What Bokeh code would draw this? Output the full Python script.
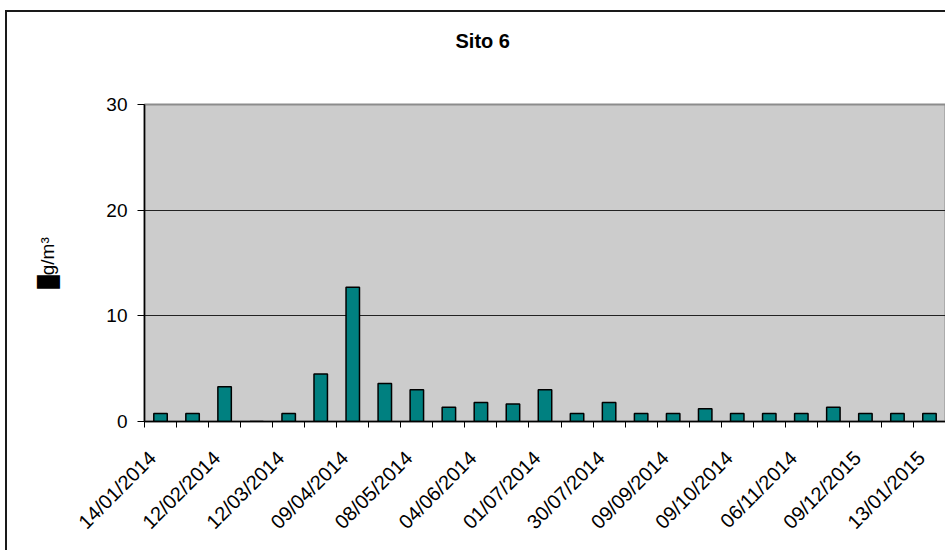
from bokeh.plotting import figure
from bokeh.models import Range1d, FixedTicker, Title
from bokeh.embed import file_html
from bokeh.resources import INLINE

# ---- data ----
values = [0.75, 0.75, 3.3, 0.0, 0.75, 4.5, 12.7, 3.6, 3.0, 1.35, 1.8, 1.65, 3.0,
          0.75, 1.8, 0.75, 0.75, 1.2, 0.75, 0.75, 0.75, 1.35, 0.75, 0.75, 0.75]
shown_labels = ["14/01/2014", "12/02/2014", "12/03/2014", "09/04/2014", "08/05/2014",
                "04/06/2014", "01/07/2014", "30/07/2014", "09/09/2014", "09/10/2014",
                "06/11/2014", "09/12/2015", "13/01/2015"]
y_ticks = [0, 10, 20, 30]
title_text = "Sito 6"
y_label = "\u2588g/m\u00b3"

FONT = "Liberation Sans"
n = len(values)
xs = list(range(n))

p = figure(width=944, height=540, output_backend="svg", toolbar_location=None,
           x_range=Range1d(-0.5, n - 0.5), y_range=Range1d(0, 30),
           min_border_left=137, min_border_right=6, min_border_top=92, min_border_bottom=131,
           background_fill_color="#CCCCCC", border_fill_color="white",
           outline_line_color="#8C8C8C", outline_line_width=2)
p.margin = (10, 0, -12, 5)
p.styles = {"border-left": "2px solid #1a1a1a", "border-top": "2px solid #1a1a1a",
            "border-right": "0px none transparent", "border-bottom": "0px none transparent",
            "outline": "none", "box-shadow": "none",
            "clip-path": "inset(0px 4px 0px 0px)"}

p.vbar(x=xs, top=values, width=0.42, fill_color="#008080",
       line_color="black", line_width=1.5)

# spacer panel next to the frame, then the title above it
p.add_layout(Title(text=" ", text_font=FONT, text_font_size="20px", standoff=11), "above")
p.add_layout(Title(text=title_text, text_font=FONT, text_font_size="20px",
                   text_font_style="bold", text_color="black", vertical_align="middle",
                   align="left", offset=311, standoff=33), "above")

# x axis
xa = p.xaxis[0]
even = xs[::2]
label_pos = [i - 0.25 for i in even]
xa.ticker = FixedTicker(ticks=label_pos, minor_ticks=[i - 0.5 for i in range(n + 1)])
xa.major_label_overrides = {pos: lab for pos, lab in zip(label_pos, shown_labels)}
xa.major_tick_out = 0
xa.major_tick_in = 0
xa.minor_tick_out = 6
xa.minor_tick_in = 0
xa.minor_tick_line_color = "black"
xa.axis_line_color = "black"
xa.axis_line_width = 1.5
xa.major_label_orientation = 0.785398
xa.major_label_text_font = FONT
xa.major_label_text_font_size = "20px"
xa.major_label_text_color = "black"
xa.major_label_standoff = 27

# y axis
ya = p.yaxis[0]
ya.ticker = FixedTicker(ticks=y_ticks)
ya.minor_tick_out = 0
ya.minor_tick_in = 0
ya.major_tick_out = 7
ya.major_tick_in = 0
ya.major_tick_line_color = "black"
ya.axis_line_color = "black"
ya.axis_line_width = 1.5
ya.major_label_text_font = FONT
ya.major_label_text_font_size = "19px"
ya.major_label_text_color = "black"
ya.major_label_standoff = 10
ya.axis_label = y_label
ya.axis_label_text_font = FONT
ya.axis_label_text_font_size = "19px"
ya.axis_label_text_font_style = "normal"
ya.axis_label_text_color = "black"
ya.axis_label_standoff = 45

p.xgrid.visible = False
p.ygrid.grid_line_color = "#222222"
p.ygrid.grid_line_width = 1.2

open("out.html", "w").write(file_html(p, INLINE))
